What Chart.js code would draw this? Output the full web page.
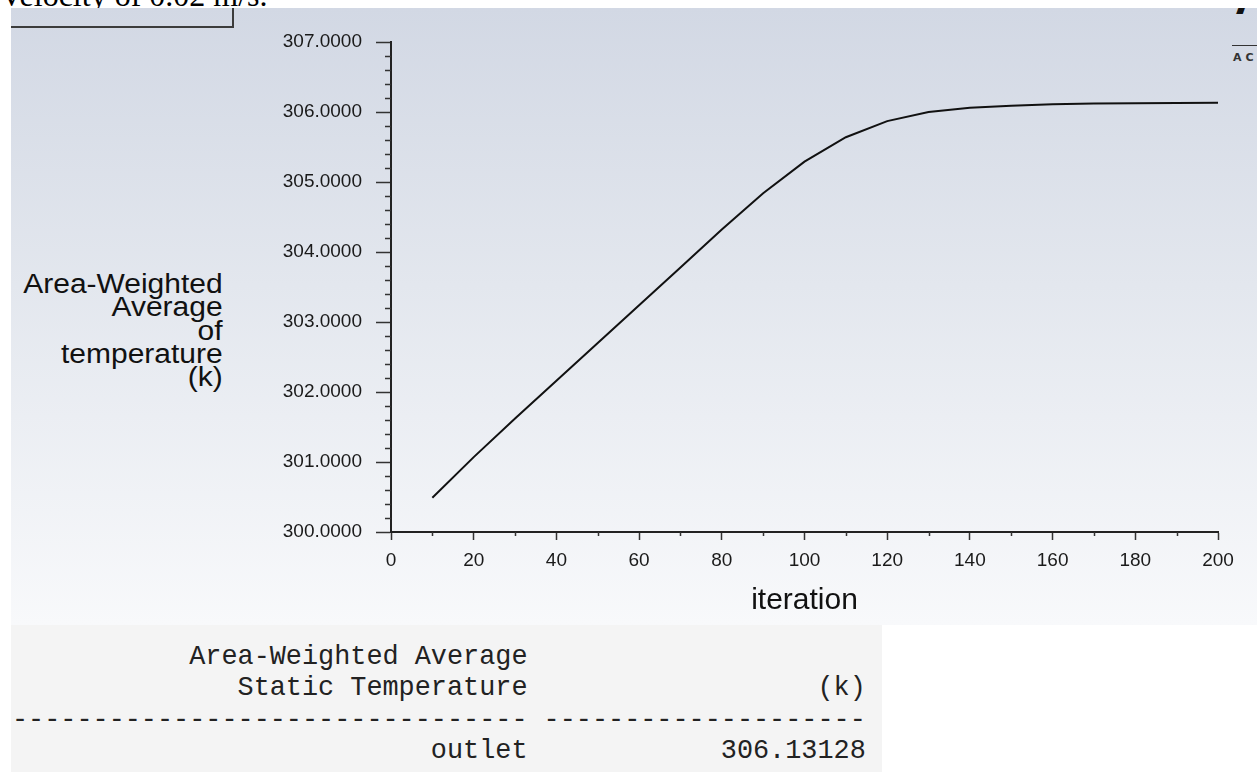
<!DOCTYPE html>
<html>
<head>
<meta charset="utf-8">
<title>Area-Weighted Average of temperature</title>
<script src="https://cdn.jsdelivr.net/npm/chart.js"></script>
<style>
  html, body { margin: 0; padding: 0; background: #fff; }
  body { width: 1257px; height: 772px; position: relative; overflow: hidden; font-family: "Liberation Sans", Arial, sans-serif; }
  #topText {
    position: absolute; left: 0; top: 0; width: 420px; height: 8px; overflow: hidden;
  }
  #topText span {
    position: absolute; left: 0; top: -21px; white-space: nowrap;
    font-family: "Liberation Serif", "Times New Roman", serif; font-size: 32px; line-height: 32px; color: #000;
  }
  #panel {
    position: absolute; left: 11px; top: 8px; width: 1246px; height: 617px; overflow: hidden;
    background: linear-gradient(to bottom, #d2d8e4 0%, #e3e7ee 45%, #f8f9fb 100%);
  }
  #box {
    position: absolute; left: -2px; top: -2px; width: 223px; height: 20px;
    border-right: 2px solid #3c3c3c; border-bottom: 2px solid #3c3c3c;
  }
  #logo {
    position: absolute; left: 1224px; top: -33px; font: bold 46px/46px "Liberation Sans", Arial, sans-serif; color: #111;
  }
  #logoLine { position: absolute; left: 1221px; top: 37px; width: 30px; height: 1px; background: #333; }
  #logoText {
    position: absolute; left: 1222px; top: 43px; font: bold 11px "DejaVu Sans", sans-serif; letter-spacing: 4px; color: #333;
  }
  #yTitle {
    position: absolute; right: 1034px; top: 273px; text-align: right;
    font-size: 27px; line-height: 23.3px; color: #111; white-space: nowrap;
    transform: scaleX(1.11); transform-origin: right top;
  }
  #report {
    position: absolute; left: 11px; top: 625px; width: 871px; height: 147px; background: #f4f4f4;
  }
  #report pre {
    position: absolute; left: 1px; top: 17px; margin: 0;
    font-family: "Liberation Mono", "Courier New", monospace; font-size: 26.85px; line-height: 31.3px; color: #222;
  }
  #chart { position: absolute; left: 0; top: 0; }
</style>
</head>
<body>
<div id="topText"><span>Velocity of 0.02 m/s.</span></div>
<div id="panel">
  <div id="box"></div>
  <div id="logo">A</div>
  <div id="logoLine"></div>
  <div id="logoText">AC</div>
</div>
<div id="yTitle">Area-Weighted<br>Average<br>of<br>temperature<br>(k)</div>
<div id="report"><pre>           Area-Weighted Average
              Static Temperature                  (k)
-------------------------------- --------------------
                          outlet            306.13128</pre></div>
<canvas id="chart" width="1257" height="772"></canvas>
<script>
// monitor history: iteration vs area-weighted temperature at the outlet (k)
var iterations = [10, 20, 30, 40, 50, 60, 70, 80, 90, 100, 110, 120, 130, 140, 150, 160, 170, 180, 190, 200];
var temperature = [300.49, 301.07, 301.62, 302.16, 302.70, 303.24, 303.78, 304.32, 304.84, 305.29,
                   305.64, 305.87, 306.00, 306.06, 306.09, 306.11, 306.12, 306.125, 306.13, 306.13128];
var xRange = [0, 200];
var yRange = [300, 307];
var xStep = 20;
var yStep = 1;

var points = [];
for (var i = 0; i < iterations.length; i++) {
  points.push({ x: iterations[i], y: temperature[i] });
}

// short unlabelled ticks between the labelled ones
var minorTicks = {
  id: 'minorTicks',
  afterDraw: function(chart) {
    var ctx = chart.ctx;
    var xs = chart.scales.x;
    var ys = chart.scales.y;
    ctx.save();
    ctx.strokeStyle = '#333';
    ctx.lineWidth = 1.5;
    ctx.beginPath();
    for (var k = 1; k < 35; k++) {
      if (k % 5 === 0) continue;
      var py = Math.round(ys.getPixelForValue(yRange[0] + k * 0.2)) + 0.5;
      ctx.moveTo(chart.chartArea.left - 6, py);
      ctx.lineTo(chart.chartArea.left, py);
    }
    for (var v = xStep / 2; v < xRange[1]; v += xStep) {
      var px = Math.round(xs.getPixelForValue(v)) + 0.5;
      ctx.moveTo(px, chart.chartArea.bottom);
      ctx.lineTo(px, chart.chartArea.bottom + 4);
    }
    ctx.stroke();
    ctx.restore();
  }
};

var tickFont = { family: '"Liberation Sans", Arial, sans-serif', size: 19 };

new Chart(document.getElementById('chart'), {
  type: 'line',
  data: {
    datasets: [{
      data: points,
      borderColor: '#111',
      borderWidth: 2,
      pointRadius: 0,
      fill: false,
      tension: 0
    }]
  },
  options: {
    responsive: false,
    animation: false,
    layout: { padding: { left: 0, top: 42, right: 39, bottom: 147 } },
    plugins: { legend: { display: false }, tooltip: { enabled: false } },
    scales: {
      x: {
        type: 'linear',
        min: xRange[0],
        max: xRange[1],
        ticks: { stepSize: xStep, font: tickFont, color: '#1a1a1a', padding: 9, maxRotation: 0 },
        grid: { drawOnChartArea: false, drawTicks: true, tickLength: 8, tickColor: '#333', tickWidth: 1.5 },
        border: { display: true, color: '#222', width: 2 },
        title: {
          display: true,
          text: 'iteration',
          color: '#111',
          font: { family: '"Liberation Sans", Arial, sans-serif', size: 30 },
          padding: { top: 0, bottom: 6 }
        },
        afterFit: function(s) {
          s.height = 93;
          s.paddingLeft = 0;
          s.paddingRight = 0;
        }
      },
      y: {
        type: 'linear',
        min: yRange[0],
        max: yRange[1],
        ticks: {
          stepSize: yStep,
          font: tickFont,
          color: '#1a1a1a',
          padding: 14,
          callback: function(v) { return v.toFixed(4); }
        },
        grid: { drawOnChartArea: false, drawTicks: true, tickLength: 15, tickColor: '#333', tickWidth: 1.5 },
        border: { display: true, color: '#222', width: 2 },
        afterFit: function(s) {
          s.width = 391;
          s.paddingTop = 0;
          s.paddingBottom = 0;
        }
      }
    }
  },
  plugins: [minorTicks]
});
</script>
</body>
</html>
